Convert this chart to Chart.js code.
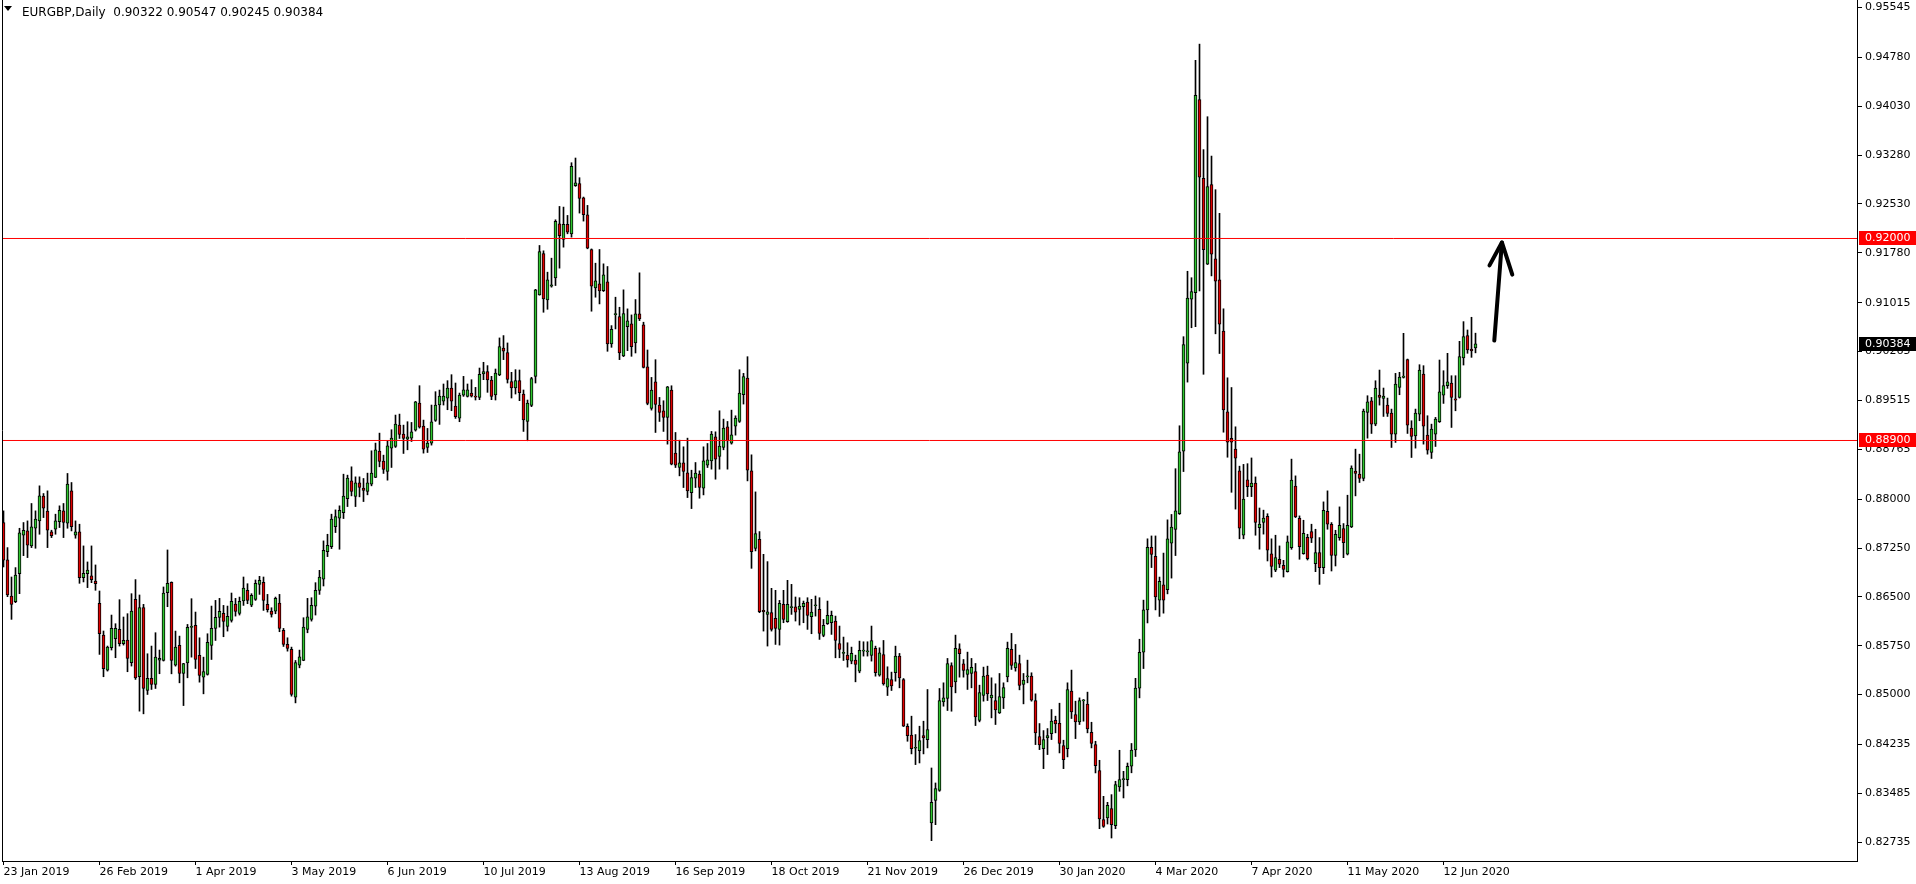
<!DOCTYPE html>
<html>
<head>
<meta charset="utf-8">
<title>EURGBP,Daily</title>
<script src="https://cdn.jsdelivr.net/npm/chart.js@4.4.1/dist/chart.umd.min.js"></script>
<style>
  html, body { margin: 0; padding: 0; background: #fff; overflow: hidden; }
  canvas { display: block; }
</style>
</head>
<body>
<canvas id="chart" width="1916" height="884"></canvas>
<script>
const symbolTitle = 'EURGBP,Daily';
const lastQuote = ['0.90322', '0.90547', '0.90245', '0.90384'];
const lastPrice = 0.90384;

// one label every 24 bars
const labelStep = 24;
const dateLabels = ['23 Jan 2019', '26 Feb 2019', '1 Apr 2019', '3 May 2019', '6 Jun 2019', '10 Jul 2019',
  '13 Aug 2019', '16 Sep 2019', '18 Oct 2019', '21 Nov 2019', '26 Dec 2019', '30 Jan 2020',
  '4 Mar 2020', '7 Apr 2020', '11 May 2020', '12 Jun 2020'];

const priceTicks = [0.95545, 0.94780, 0.94030, 0.93280, 0.92530, 0.91780, 0.91015, 0.90265, 0.89515,
  0.88765, 0.88000, 0.87250, 0.86500, 0.85750, 0.85000, 0.84235, 0.83485, 0.82735];

// horizontal levels drawn on the chart
const levels = [0.92000, 0.88900];

// daily candles
const opens = [
  0.87641, 0.87067, 0.86513, 0.86426, 0.86857, 0.87446, 0.87512, 0.87282, 0.87553, 0.87666,
  0.88045, 0.87815, 0.87497, 0.87538, 0.87656, 0.87820, 0.87630, 0.88127, 0.87446, 0.87497,
  0.86795, 0.86857, 0.86821, 0.86744, 0.86401, 0.85914, 0.85376, 0.85719, 0.85858, 0.86001,
  0.85781, 0.85837, 0.85489, 0.86462, 0.85274, 0.86334, 0.85064, 0.85248, 0.85156, 0.85530,
  0.85525, 0.86564, 0.86723, 0.85452, 0.85755, 0.85324, 0.85488, 0.86031, 0.86062, 0.85601,
  0.85268, 0.85309, 0.85755, 0.86016, 0.86185, 0.86246, 0.86047, 0.86139, 0.86390, 0.86246,
  0.86436, 0.86600, 0.86374, 0.86461, 0.86692, 0.86723, 0.86385, 0.86282, 0.86282, 0.86405,
  0.85985, 0.85770, 0.85693, 0.84960, 0.85452, 0.85524, 0.86000, 0.86154, 0.86359, 0.86600,
  0.86770, 0.87195, 0.87272, 0.87579, 0.87707, 0.87794, 0.88009, 0.88281, 0.88040, 0.88250,
  0.88168, 0.88117, 0.88230, 0.88332, 0.88737, 0.88583, 0.88424, 0.88783, 0.88809, 0.89136,
  0.88998, 0.88921, 0.88937, 0.89060, 0.89475, 0.89121, 0.88793, 0.88860, 0.89208, 0.89444,
  0.89505, 0.89551, 0.89705, 0.89428, 0.89244, 0.89597, 0.89577, 0.89628, 0.89570, 0.89562,
  0.89920, 0.89956, 0.89828, 0.89598, 0.89905, 0.90320, 0.90248, 0.89803, 0.89705, 0.89818,
  0.89613, 0.89193, 0.89439, 0.89885, 0.91135, 0.91770, 0.91058, 0.91268, 0.91396, 0.92226,
  0.91985, 0.92216, 0.92072, 0.92810, 0.92841, 0.92626, 0.92364, 0.91831, 0.91242, 0.91304,
  0.91201, 0.91335, 0.90382, 0.90832, 0.90802, 0.90197, 0.90648, 0.90689, 0.90397, 0.90843,
  0.90674, 0.90032, 0.89392, 0.89802, 0.89443, 0.89356, 0.89254, 0.89674, 0.88706, 0.88485,
  0.88557, 0.88403, 0.88101, 0.88321, 0.88383, 0.88168, 0.88521, 0.88588, 0.88957, 0.88654,
  0.88793, 0.89110, 0.88859, 0.89121, 0.89192, 0.89602, 0.89858, 0.88434, 0.87245, 0.87384,
  0.86293, 0.86231, 0.86257, 0.86170, 0.86001, 0.86385, 0.86118, 0.86334, 0.86349, 0.86308,
  0.86349, 0.86421, 0.86195, 0.86364, 0.86308, 0.85908, 0.86088, 0.86103, 0.86129, 0.85785,
  0.85632, 0.85606, 0.85514, 0.85529, 0.85360, 0.85668, 0.85657, 0.85601, 0.85709, 0.85299,
  0.85616, 0.85114, 0.85232, 0.85335, 0.85591, 0.85232, 0.84515, 0.84377, 0.84177, 0.84141,
  0.84371, 0.84310, 0.83029, 0.83378, 0.83531, 0.84889, 0.84940, 0.85447, 0.85196, 0.85703,
  0.85473, 0.85309, 0.85324, 0.85355, 0.84602, 0.84986, 0.85299, 0.84950, 0.84909, 0.84720,
  0.84950, 0.85273, 0.85693, 0.85411, 0.85478, 0.85155, 0.85273, 0.85283, 0.84909, 0.84356,
  0.84172, 0.84336, 0.84402, 0.84607, 0.84561, 0.84218, 0.84172, 0.85053, 0.84694, 0.84582,
  0.84904, 0.84853, 0.84423, 0.84233, 0.83834, 0.83081, 0.83106, 0.83250, 0.82988, 0.83583,
  0.83695, 0.83695, 0.83900, 0.84150, 0.85100, 0.85650, 0.86300, 0.87260, 0.87122, 0.86450,
  0.86683, 0.86612, 0.87326, 0.87534, 0.87776, 0.88736, 0.90087, 0.91069, 0.91168, 0.94132,
  0.92924, 0.91607, 0.92826, 0.91689, 0.91366, 0.90581, 0.89340, 0.88934, 0.88769, 0.88434,
  0.87446, 0.88297, 0.88193, 0.88248, 0.87562, 0.87644, 0.87737, 0.87161, 0.86908, 0.87077,
  0.86984, 0.86887, 0.87256, 0.88199, 0.87707, 0.87164, 0.87415, 0.87502, 0.87010, 0.87179,
  0.86949, 0.87814, 0.87615, 0.87138, 0.87410, 0.87548, 0.87154, 0.87574, 0.88429, 0.88383,
  0.88316, 0.89331, 0.89510, 0.89151, 0.89597, 0.89546, 0.89443, 0.89321, 0.88998, 0.89715,
  0.89869, 0.90140, 0.89090, 0.88972, 0.89305, 0.89920, 0.88982, 0.88716, 0.88998, 0.89187,
  0.89597, 0.89741, 0.89782, 0.89541, 0.89561, 0.90166, 0.90509, 0.90304, 0.90322
];
const highs = [
  0.87820, 0.87256, 0.86805, 0.86949, 0.87553, 0.87641, 0.87666, 0.87933, 0.87820, 0.88204,
  0.88086, 0.88127, 0.87523, 0.87769, 0.87897, 0.87933, 0.88394, 0.88255, 0.87666, 0.87615,
  0.87282, 0.87036, 0.87282, 0.86990, 0.86590, 0.85976, 0.85745, 0.86221, 0.86088, 0.86457,
  0.86191, 0.86242, 0.86549, 0.86765, 0.86529, 0.86385, 0.85627, 0.85745, 0.85950, 0.85684,
  0.86652, 0.87220, 0.86730, 0.85975, 0.85898, 0.85480, 0.86077, 0.86472, 0.86267, 0.85872,
  0.85575, 0.85934, 0.86359, 0.86446, 0.86477, 0.86369, 0.86359, 0.86559, 0.86477, 0.86497,
  0.86805, 0.86702, 0.86549, 0.86759, 0.86815, 0.86805, 0.86538, 0.86333, 0.86497, 0.86538,
  0.86016, 0.85872, 0.85729, 0.85524, 0.85683, 0.86180, 0.86477, 0.86487, 0.86718, 0.86907,
  0.87359, 0.87461, 0.87769, 0.87835, 0.87897, 0.88383, 0.88368, 0.88496, 0.88342, 0.88342,
  0.88317, 0.88399, 0.88742, 0.88860, 0.89013, 0.88675, 0.88896, 0.89065, 0.89290, 0.89305,
  0.89136, 0.89188, 0.89177, 0.89500, 0.89741, 0.89213, 0.89085, 0.89444, 0.89649, 0.89674,
  0.89767, 0.89818, 0.89910, 0.89782, 0.89628, 0.89884, 0.89767, 0.89833, 0.89715, 0.90012,
  0.90100, 0.90049, 0.89885, 0.89997, 0.90474, 0.90510, 0.90397, 0.89946, 0.89987, 0.89982,
  0.89675, 0.89521, 0.89869, 0.91220, 0.91893, 0.91811, 0.91483, 0.91698, 0.92287, 0.92492,
  0.92482, 0.92354, 0.93163, 0.93235, 0.92933, 0.92636, 0.92508, 0.91840, 0.91621, 0.91831,
  0.91611, 0.91570, 0.90663, 0.91099, 0.90945, 0.91212, 0.90920, 0.90827, 0.91063, 0.91473,
  0.90715, 0.90289, 0.89868, 0.90140, 0.89561, 0.89510, 0.89730, 0.89740, 0.89023, 0.88905,
  0.88803, 0.88936, 0.88444, 0.88562, 0.88434, 0.88803, 0.88854, 0.89039, 0.89033, 0.89356,
  0.89228, 0.89192, 0.89366, 0.89279, 0.89986, 0.89930, 0.90186, 0.88680, 0.88111, 0.87502,
  0.87153, 0.87041, 0.86631, 0.86600, 0.86446, 0.86600, 0.86754, 0.86692, 0.86498, 0.86487,
  0.86436, 0.86487, 0.86462, 0.86513, 0.86487, 0.86154, 0.86436, 0.86282, 0.86205, 0.86052,
  0.85883, 0.85796, 0.85729, 0.85606, 0.85821, 0.85811, 0.85811, 0.86052, 0.85744, 0.85719,
  0.85831, 0.85427, 0.85345, 0.85744, 0.85632, 0.85247, 0.84551, 0.84669, 0.84387, 0.84515,
  0.84592, 0.85078, 0.83874, 0.83644, 0.85094, 0.85181, 0.85555, 0.85488, 0.85913, 0.85780,
  0.85539, 0.85652, 0.85555, 0.85478, 0.85145, 0.85422, 0.85437, 0.85258, 0.85166, 0.85324,
  0.85181, 0.85806, 0.85939, 0.85770, 0.85606, 0.85324, 0.85529, 0.85335, 0.85012, 0.84556,
  0.84448, 0.84479, 0.84771, 0.84669, 0.84868, 0.84300, 0.85181, 0.85376, 0.84899, 0.84950,
  0.84925, 0.85038, 0.84576, 0.84284, 0.83992, 0.83439, 0.83347, 0.83465, 0.83670, 0.84146,
  0.83823, 0.83950, 0.84250, 0.85250, 0.85850, 0.86450, 0.87391, 0.87435, 0.87435, 0.86804,
  0.87172, 0.87682, 0.87765, 0.88467, 0.89126, 0.90493, 0.91497, 0.91398, 0.94736, 0.94983,
  0.93364, 0.93869, 0.93265, 0.92749, 0.92386, 0.90921, 0.89862, 0.89713, 0.89110, 0.88506,
  0.88533, 0.88544, 0.88632, 0.88341, 0.87864, 0.87831, 0.87776, 0.87391, 0.87446, 0.87282,
  0.87061, 0.87435, 0.88614, 0.88357, 0.87743, 0.87676, 0.87461, 0.87615, 0.87538, 0.87410,
  0.87958, 0.88127, 0.87640, 0.87522, 0.87881, 0.87625, 0.88060, 0.88511, 0.88767, 0.88690,
  0.89382, 0.89587, 0.89561, 0.89817, 0.89981, 0.89705, 0.89551, 0.89382, 0.89930, 0.89946,
  0.90545, 0.90150, 0.89203, 0.89382, 0.90063, 0.90048, 0.89280, 0.89151, 0.89254, 0.90135,
  0.89971, 0.90238, 0.89894, 0.89894, 0.90422, 0.90724, 0.90596, 0.90791, 0.90547
];
const lows = [
  0.86959, 0.86503, 0.86155, 0.86411, 0.86549, 0.87133, 0.87103, 0.87256, 0.87246, 0.87461,
  0.87717, 0.87256, 0.87410, 0.87461, 0.87564, 0.87410, 0.87553, 0.87512, 0.87400, 0.86708,
  0.86729, 0.86642, 0.86718, 0.86601, 0.85617, 0.85274, 0.85361, 0.85684, 0.85566, 0.85745,
  0.85760, 0.85351, 0.85438, 0.85233, 0.84746, 0.84705, 0.85002, 0.85079, 0.85094, 0.85320,
  0.85515, 0.86349, 0.85319, 0.85437, 0.85181, 0.84832, 0.85258, 0.85575, 0.85401, 0.85191,
  0.85012, 0.85299, 0.85539, 0.85831, 0.86036, 0.85888, 0.85975, 0.86113, 0.86205, 0.86221,
  0.86369, 0.86395, 0.86349, 0.86446, 0.86538, 0.86292, 0.86267, 0.86190, 0.86241, 0.85965,
  0.85739, 0.85667, 0.84976, 0.84873, 0.85411, 0.85520, 0.85949, 0.86128, 0.86221, 0.86538,
  0.86667, 0.87118, 0.87241, 0.87487, 0.87231, 0.87702, 0.87886, 0.88050, 0.87886, 0.88035,
  0.87963, 0.88066, 0.88204, 0.88330, 0.88496, 0.88394, 0.88291, 0.88486, 0.88793, 0.88931,
  0.88701, 0.88757, 0.88885, 0.89044, 0.89090, 0.88706, 0.88716, 0.88829, 0.89193, 0.89147,
  0.89444, 0.89372, 0.89357, 0.89239, 0.89188, 0.89577, 0.89567, 0.89567, 0.89521, 0.89526,
  0.89833, 0.89639, 0.89526, 0.89521, 0.89895, 0.90141, 0.89782, 0.89552, 0.89613, 0.89511,
  0.89039, 0.88896, 0.89419, 0.89782, 0.91130, 0.90868, 0.90914, 0.91253, 0.91278, 0.91545,
  0.91867, 0.92072, 0.92021, 0.92800, 0.92390, 0.92267, 0.91842, 0.90884, 0.91099, 0.90996,
  0.91186, 0.90269, 0.90330, 0.90612, 0.90141, 0.90187, 0.90279, 0.90192, 0.90243, 0.90740,
  0.90013, 0.89448, 0.89366, 0.89023, 0.89192, 0.89039, 0.88844, 0.88526, 0.88485, 0.88357,
  0.88178, 0.88024, 0.87855, 0.88178, 0.88014, 0.88065, 0.88485, 0.88460, 0.88306, 0.88460,
  0.88757, 0.88460, 0.88844, 0.88982, 0.89177, 0.89459, 0.88280, 0.86938, 0.87205, 0.86257,
  0.85975, 0.85745, 0.85975, 0.85770, 0.85760, 0.86103, 0.86110, 0.86231, 0.86129, 0.86067,
  0.86103, 0.86001, 0.85934, 0.86205, 0.85847, 0.85888, 0.86077, 0.85924, 0.85565, 0.85565,
  0.85524, 0.85422, 0.85473, 0.85196, 0.85335, 0.85591, 0.85591, 0.85514, 0.85283, 0.85283,
  0.85145, 0.84986, 0.85063, 0.85206, 0.85104, 0.84510, 0.84284, 0.84090, 0.83926, 0.83951,
  0.84090, 0.84182, 0.82758, 0.83004, 0.83516, 0.84822, 0.84756, 0.84745, 0.85027, 0.85268,
  0.85268, 0.85079, 0.85104, 0.84525, 0.84582, 0.84899, 0.84909, 0.84643, 0.84541, 0.84710,
  0.84786, 0.85196, 0.85386, 0.85360, 0.85073, 0.84858, 0.85181, 0.84899, 0.84233, 0.84156,
  0.83864, 0.84080, 0.84310, 0.84413, 0.84105, 0.83864, 0.84044, 0.84633, 0.84325, 0.84541,
  0.84592, 0.84413, 0.84182, 0.83798, 0.82942, 0.82963, 0.83014, 0.82799, 0.82942, 0.83516,
  0.83414, 0.83600, 0.83800, 0.84050, 0.84950, 0.85400, 0.86100, 0.86950, 0.86300, 0.86200,
  0.86250, 0.86546, 0.86788, 0.87134, 0.87765, 0.88423, 0.89796, 0.90630, 0.90646, 0.91195,
  0.89916, 0.91600, 0.91426, 0.90537, 0.90235, 0.89027, 0.88643, 0.88105, 0.87847, 0.87391,
  0.87391, 0.88039, 0.88039, 0.87446, 0.87232, 0.87463, 0.87051, 0.86804, 0.86887, 0.86949,
  0.86805, 0.86880, 0.87230, 0.87717, 0.87077, 0.87154, 0.87066, 0.87333, 0.86887, 0.86692,
  0.86856, 0.87538, 0.86897, 0.86974, 0.87369, 0.87102, 0.87143, 0.87563, 0.88050, 0.88255,
  0.88281, 0.88936, 0.89008, 0.89126, 0.89443, 0.89269, 0.89269, 0.88793, 0.88870, 0.89602,
  0.89858, 0.89008, 0.88639, 0.88783, 0.89203, 0.88844, 0.88690, 0.88624, 0.88808, 0.89177,
  0.89469, 0.89700, 0.89100, 0.89356, 0.89551, 0.90058, 0.90238, 0.90176, 0.90245
];
const closes = [
  0.87062, 0.86529, 0.86385, 0.86836, 0.87482, 0.87523, 0.87292, 0.87574, 0.87692, 0.88050,
  0.87861, 0.87523, 0.87441, 0.87666, 0.87830, 0.87641, 0.88230, 0.87579, 0.87497, 0.86795,
  0.86862, 0.86913, 0.86765, 0.86703, 0.85935, 0.85397, 0.85730, 0.86017, 0.86017, 0.85781,
  0.85832, 0.85555, 0.86283, 0.85258, 0.86334, 0.85094, 0.85248, 0.85156, 0.85576, 0.85555,
  0.86560, 0.86707, 0.85524, 0.85729, 0.85324, 0.85478, 0.86031, 0.86031, 0.85539, 0.85293,
  0.85355, 0.85801, 0.86016, 0.86185, 0.86277, 0.86123, 0.86200, 0.86431, 0.86277, 0.86431,
  0.86636, 0.86446, 0.86523, 0.86707, 0.86753, 0.86446, 0.86303, 0.86231, 0.86477, 0.86016,
  0.85770, 0.85708, 0.85001, 0.85493, 0.85580, 0.86036, 0.86195, 0.86369, 0.86600, 0.86805,
  0.87215, 0.87292, 0.87692, 0.87733, 0.87830, 0.88045, 0.88322, 0.88117, 0.88250, 0.88178,
  0.88132, 0.88250, 0.88399, 0.88757, 0.88578, 0.88455, 0.88819, 0.88937, 0.89152, 0.88993,
  0.88931, 0.88957, 0.89034, 0.89495, 0.89106, 0.88768, 0.88860, 0.89188, 0.89444, 0.89582,
  0.89582, 0.89705, 0.89505, 0.89264, 0.89597, 0.89679, 0.89679, 0.89582, 0.89565, 0.89915,
  0.89956, 0.89828, 0.89577, 0.89936, 0.90341, 0.90269, 0.89839, 0.89705, 0.89818, 0.89634,
  0.89214, 0.89475, 0.89849, 0.91212, 0.91801, 0.91073, 0.91365, 0.91288, 0.92262, 0.92042,
  0.92216, 0.92098, 0.93107, 0.92856, 0.92615, 0.92364, 0.91852, 0.91268, 0.91350, 0.91196,
  0.91442, 0.90382, 0.90607, 0.90832, 0.90243, 0.90848, 0.90735, 0.90341, 0.90843, 0.90766,
  0.90023, 0.89469, 0.89674, 0.89454, 0.89331, 0.89254, 0.89725, 0.88536, 0.88521, 0.88557,
  0.88424, 0.88127, 0.88332, 0.88398, 0.88178, 0.88588, 0.88603, 0.88998, 0.88613, 0.88813,
  0.89090, 0.88895, 0.88987, 0.89243, 0.89628, 0.89879, 0.88444, 0.87194, 0.87471, 0.86272,
  0.86272, 0.86272, 0.86001, 0.86016, 0.86400, 0.86154, 0.86385, 0.86334, 0.86267, 0.86359,
  0.86400, 0.86216, 0.86267, 0.86364, 0.85939, 0.86062, 0.86216, 0.86216, 0.85831, 0.85693,
  0.85632, 0.85534, 0.85632, 0.85463, 0.85678, 0.85668, 0.85657, 0.85831, 0.85335, 0.85642,
  0.85165, 0.85247, 0.85135, 0.85591, 0.85258, 0.84515, 0.84371, 0.84172, 0.84177, 0.84295,
  0.84336, 0.84464, 0.83347, 0.83557, 0.84909, 0.84950, 0.85478, 0.85119, 0.85709, 0.85627,
  0.85370, 0.85386, 0.85417, 0.84658, 0.85032, 0.85283, 0.85012, 0.84991, 0.84766, 0.84971,
  0.85109, 0.85709, 0.85447, 0.85493, 0.85140, 0.85222, 0.85273, 0.84915, 0.84413, 0.84228,
  0.84310, 0.84372, 0.84592, 0.84551, 0.84249, 0.84003, 0.85079, 0.84735, 0.84582, 0.84909,
  0.84904, 0.84474, 0.84249, 0.83910, 0.83091, 0.82978, 0.83301, 0.83004, 0.83618, 0.83695,
  0.83695, 0.83900, 0.84150, 0.85100, 0.85650, 0.86300, 0.87260, 0.87150, 0.86500, 0.86738,
  0.86450, 0.87391, 0.87573, 0.87820, 0.88725, 0.90372, 0.91086, 0.91184, 0.94198, 0.92941,
  0.91827, 0.92798, 0.91761, 0.91344, 0.90685, 0.89368, 0.88874, 0.88874, 0.88627, 0.87556,
  0.88001, 0.88193, 0.88248, 0.87644, 0.87617, 0.87710, 0.87216, 0.86969, 0.87102, 0.87000,
  0.86923, 0.87343, 0.88291, 0.87727, 0.87271, 0.87476, 0.87087, 0.87399, 0.87179, 0.86949,
  0.87830, 0.87615, 0.87138, 0.87461, 0.87599, 0.87333, 0.87599, 0.88475, 0.88393, 0.88316,
  0.89351, 0.89495, 0.89151, 0.89705, 0.89561, 0.89582, 0.89315, 0.88998, 0.89766, 0.89874,
  0.89889, 0.89136, 0.88962, 0.89321, 0.89981, 0.89121, 0.88752, 0.89075, 0.89228, 0.89648,
  0.89741, 0.89802, 0.89561, 0.89520, 0.90186, 0.90494, 0.90289, 0.90273, 0.90384
];

// hand drawn arrow (bar index, price)
const arrowShaft = [{x: 372.7, y: 0.90434}, {x: 374.6, y: 0.91939}];
const arrowHead = [{x: 371.5, y: 0.91587}, {x: 374.6, y: 0.91939}, {x: 377.2, y: 0.91445}];

const bullColor = '#2ec52e';
const bearColor = '#e00000';
const levelColor = '#ff0000';

// visible window: 4px per bar, right side left empty like the terminal does
const xMin = -0.375;
const xMax = 463.375;
const yMax = 0.956602;
const yMin = 0.824464;

Chart.defaults.font.family = '"DejaVu Sans", sans-serif';
Chart.defaults.font.size = 11;
Chart.defaults.color = '#000';

const wickData = opens.map((o, i) => ({x: i, y: [lows[i], highs[i]]}));
const bodyData = opens.map((o, i) => ({x: i, y: [Math.min(o, closes[i]), Math.max(o, closes[i])]}));
const bodyColors = opens.map((o, i) => closes[i] >= o ? bullColor : bearColor);

const levelSets = levels.map(lvl => ({
    type: 'line',
    data: [{x: xMin, y: lvl}, {x: xMax, y: lvl}],
    borderColor: levelColor,
    borderWidth: 1,
    pointRadius: 0,
    order: 0
}));

// axis boxes, header and frame
const terminalChrome = {
    id: 'terminalChrome',
    afterDraw(chart) {
        const c = chart.ctx;
        const y = chart.scales.y;
        const area = chart.chartArea;
        c.save();

        c.strokeStyle = '#000';
        c.lineWidth = 1;
        c.beginPath();
        c.moveTo(area.left + 0.5, 0);
        c.lineTo(area.left + 0.5, area.bottom);
        c.stroke();

        c.font = '11px "DejaVu Sans"';
        c.textBaseline = 'middle';
        c.textAlign = 'left';
        const box = (value, bg) => {
            const py = Math.round(y.getPixelForValue(value));
            c.fillStyle = bg;
            c.fillRect(area.right + 2, py - 7, chart.width - area.right - 2, 14);
            c.fillStyle = '#fff';
            c.fillText(value.toFixed(5), area.right + 8, py + 0.5);
        };
        levels.forEach(lvl => box(lvl, levelColor));
        box(lastPrice, '#000');

        c.fillStyle = '#000';
        c.beginPath();
        c.moveTo(4, 6);
        c.lineTo(12, 6);
        c.lineTo(8, 11);
        c.closePath();
        c.fill();
        c.font = '12px "DejaVu Sans"';
        c.fillText(symbolTitle + '  ' + lastQuote.join(' '), 22, 12.5);
        c.restore();
    }
};

new Chart(document.getElementById('chart'), {
    type: 'bar',
    data: {
        datasets: [
            ...levelSets,
            {
                type: 'line',
                data: arrowShaft,
                borderColor: '#000',
                borderWidth: 4,
                borderCapStyle: 'round',
                pointRadius: 0,
                order: 0
            },
            {
                type: 'line',
                data: arrowHead,
                borderColor: '#000',
                borderWidth: 4,
                borderCapStyle: 'round',
                borderJoinStyle: 'round',
                pointRadius: 0,
                order: 0
            },
            {
                data: bodyData,
                backgroundColor: bodyColors,
                borderColor: '#000',
                borderWidth: 1,
                borderSkipped: false,
                barThickness: 3,
                minBarLength: 1,
                grouped: false,
                order: 1
            },
            {
                data: wickData,
                backgroundColor: '#000',
                borderWidth: 0,
                barThickness: 1,
                grouped: false,
                order: 2
            }
        ]
    },
    options: {
        responsive: false,
        animation: false,
        devicePixelRatio: 1,
        layout: { padding: { left: 2, top: 0, right: 0, bottom: 0 } },
        plugins: {
            legend: { display: false },
            tooltip: { enabled: false }
        },
        scales: {
            x: {
                type: 'linear',
                min: xMin,
                max: xMax,
                offset: false,
                grid: { drawOnChartArea: false, offset: false, color: '#000', tickLength: 4 },
                border: { color: '#000' },
                ticks: {
                    align: 'start',
                    padding: 1,
                    maxRotation: 0,
                    autoSkip: false,
                    callback: (v, idx) => dateLabels[idx]
                },
                afterBuildTicks: s => { s.ticks = dateLabels.map((d, k) => ({value: k * labelStep})); },
                afterFit: s => { s.height = 23; s.paddingLeft = 0; s.paddingRight = 0; }
            },
            y: {
                type: 'linear',
                position: 'right',
                min: yMin,
                max: yMax,
                grid: { drawOnChartArea: false, color: '#000', tickLength: 5 },
                border: { color: '#000' },
                ticks: {
                    padding: 3,
                    crossAlign: 'near',
                    autoSkip: false,
                    callback: v => v.toFixed(5)
                },
                afterBuildTicks: s => { s.ticks = priceTicks.map(v => ({value: v})); },
                afterFit: s => { s.width = 59; s.paddingTop = 0; s.paddingBottom = 0; }
            }
        }
    },
    plugins: [terminalChrome]
});
</script>
</body>
</html>
